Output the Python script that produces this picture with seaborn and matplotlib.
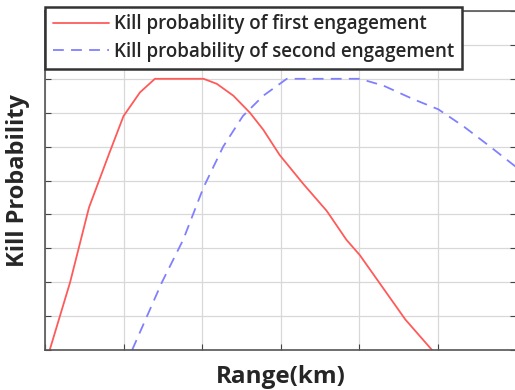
import numpy as np
import pandas as pd
import matplotlib
matplotlib.use("Agg")
import matplotlib.pyplot as plt
import seaborn as sns

# values (x in grid units, y = probability)
first_range = [0.06, 0.32, 0.56, 0.81, 1.00, 1.21, 1.40, 2.02, 2.19, 2.40,
               2.61, 2.78, 2.99, 3.29, 3.59, 3.84, 4.01, 4.59, 4.93]
first_kill = [0.0, 0.20, 0.42, 0.575, 0.69, 0.76, 0.80, 0.80, 0.785, 0.75,
              0.70, 0.65, 0.575, 0.49, 0.41, 0.325, 0.28, 0.09, 0.0]

second_range = [1.11, 1.49, 1.76, 2.02, 2.27, 2.52, 2.78, 3.08, 4.01, 4.31, 4.69,
                5.01, 5.33, 5.67, 6.00]
second_kill = [0.0, 0.20, 0.325, 0.48, 0.60, 0.69, 0.75, 0.80, 0.80, 0.78, 0.74,
               0.71, 0.66, 0.60, 0.54]

labels = ['Kill probability of first engagement',
          'Kill probability of second engagement']

sns.set_style('whitegrid')
plt.rcParams['font.family'] = ['Open Sans', 'DejaVu Sans']

fig = plt.figure(figsize=(5.15, 3.9), dpi=100)
ax = fig.add_axes([45 / 515, 40 / 390, 471 / 515, 339 / 390])

df1 = pd.DataFrame({'x': first_range, 'y': first_kill})
df2 = pd.DataFrame({'x': second_range, 'y': second_kill})
sns.lineplot(data=df1, x='x', y='y', sort=False, ax=ax, color='#ff5a5a',
             lw=1.3, label=labels[0])
sns.lineplot(data=df2, x='x', y='y', sort=False, ax=ax, color='#8080ff',
             lw=1.3, linestyle=(0, (6, 4)), label=labels[1])

ax.set_xlim(0, 6)
ax.set_ylim(0, 1)
ax.set_xticks(np.arange(0, 7, 1))
ax.set_yticks(np.arange(0, 1.01, 0.1))
ax.set_xticklabels([])
ax.set_yticklabels([])
ax.tick_params(direction='in', length=4, color='#444444',
               top=True, right=True, bottom=True, left=True)
ax.grid(True, color='#d8d8d8', lw=0.9)
for s in ax.spines.values():
    s.set_color('#555555')
    s.set_linewidth(1.2)

ax.set_xlabel('Range(km)', fontsize=17.5, fontweight='bold', labelpad=7)
ax.set_ylabel('Kill Probability', fontsize=17, fontweight='bold', labelpad=7)

leg = ax.legend(loc='upper left', bbox_to_anchor=(0.0, 1.012),
                prop={'size': 13.5, 'weight': 'semibold'},
                frameon=True, fancybox=False, handlelength=3.0,
                borderaxespad=0, borderpad=0.4, labelspacing=0.4,
                handletextpad=0.3)
leg.get_frame().set_edgecolor('#333333')
leg.get_frame().set_linewidth(1.8)
leg.get_frame().set_alpha(1)

fig.savefig('out.png', dpi=100)
